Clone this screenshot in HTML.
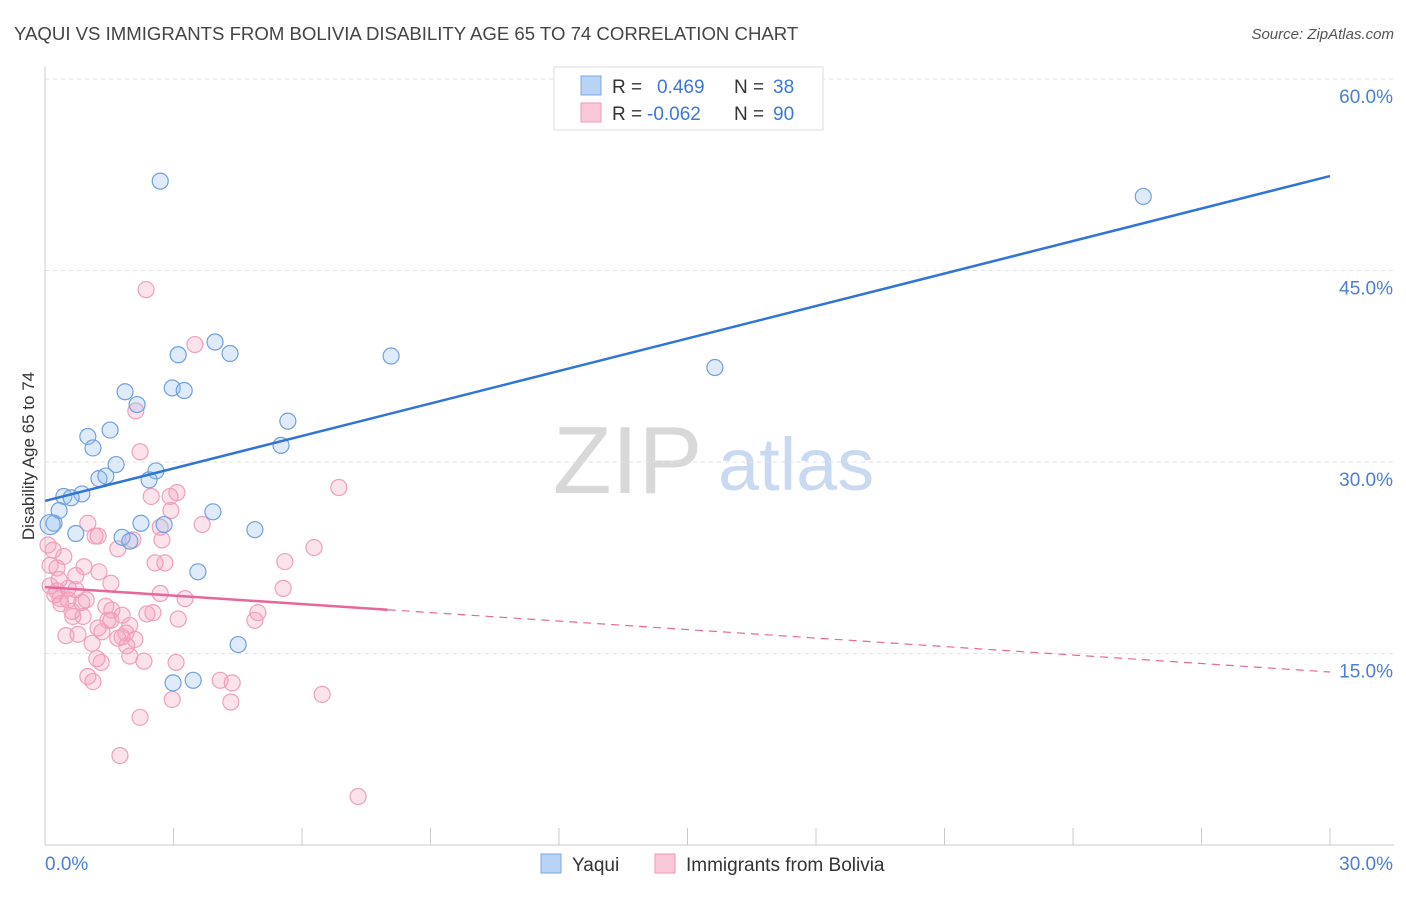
<!DOCTYPE html>
<html><head><meta charset="utf-8"><style>
body{margin:0;background:#fff;font-family:"Liberation Sans",sans-serif}
svg text{font-family:"Liberation Sans",sans-serif}
</style></head><body>
<svg id="chart" width="1406" height="892" viewBox="0 0 1406 892">
<text x="14" y="40" font-size="18.6" fill="#444">YAQUI VS IMMIGRANTS FROM BOLIVIA DISABILITY AGE 65 TO 74 CORRELATION CHART</text>
<text x="1394" y="39" font-size="15" fill="#555" font-style="italic" text-anchor="end">Source: ZipAtlas.com</text>
<g>
<text x="553" y="493" font-size="96" fill="#d8d8d8" font-family="Liberation Serif">ZIP</text>
<text x="718" y="490" font-size="74" fill="#c9daf0">atlas</text>
</g>
<g id="grid"></g>
<g id="axes"></g>
<g id="pts"></g>
<g id="trends"></g>
<text x="34" y="456" font-size="17" fill="#333" text-anchor="middle" transform="rotate(-90 34 456)">Disability Age 65 to 74</text>
<g>
<rect x="554" y="67" width="269" height="63" fill="#fff" stroke="#ddd"/>
<rect x="581" y="76" width="20" height="19" fill="#b8d3f5" stroke="#7aa8e6"/>
<rect x="581" y="103" width="20" height="19" fill="#fac8d8" stroke="#ef9ab5"/>
<text x="612" y="93" font-size="19" fill="#333">R =</text>
<text x="657" y="93" font-size="19" fill="#3a78d8">0.469</text>
<text x="734" y="93" font-size="19" fill="#333">N =</text>
<text x="773" y="93" font-size="19" fill="#3a78d8">38</text>
<text x="612" y="120" font-size="19" fill="#333">R =</text>
<text x="647" y="120" font-size="19" fill="#3a78d8">-0.062</text>
<text x="734" y="120" font-size="19" fill="#333">N =</text>
<text x="773" y="120" font-size="19" fill="#3a78d8">90</text>
</g>
<g>
<rect x="541" y="854" width="20" height="19" fill="#b8d3f5" stroke="#7aa8e6"/>
<text x="572" y="871" font-size="19" fill="#333">Yaqui</text>
<rect x="655" y="854" width="20" height="19" fill="#fac8d8" stroke="#ef9ab5"/>
<text x="686" y="871" font-size="19" fill="#333">Immigrants from Bolivia</text>
</g>
</svg>
<script>
const yaquiX=[2.69,25.64,3.97,3.11,4.32,8.08,15.64,2.97,3.25,1.87,2.15,5.67,1.52,1.00,1.12,5.51,1.66,2.59,1.26,1.42,2.43,0.86,0.44,0.61,0.33,3.92,2.24,2.78,0.21,0.72,4.90,1.80,1.98,3.57,4.51,2.99,3.46,0.12];
const yaquiY=[52.0,50.8,39.4,38.4,38.5,38.3,37.4,35.8,35.6,35.5,34.5,33.2,32.5,32.0,31.1,31.3,29.8,29.3,28.7,28.9,28.6,27.5,27.3,27.2,26.2,26.1,25.2,25.1,25.2,24.4,24.7,24.1,23.8,21.4,15.7,12.7,12.9,25.1];
const boliviaX=[2.36,3.50,2.12,2.22,6.86,3.08,2.48,2.92,2.94,1.00,3.67,2.69,1.17,1.24,2.05,2.73,6.28,1.70,0.19,0.44,5.60,2.57,2.80,0.12,0.28,0.91,1.26,0.72,0.33,1.54,0.12,5.56,0.54,0.28,0.72,2.69,3.27,0.54,0.86,0.37,1.42,1.56,0.63,2.52,4.97,2.38,1.80,0.89,0.65,1.54,3.11,4.90,1.24,1.89,1.33,0.77,0.49,1.70,2.10,1.80,1.10,1.91,1.98,1.21,1.31,2.31,3.06,1.00,1.12,4.09,4.37,6.47,2.97,4.34,2.22,1.75,7.31,0.07,0.23,0.35,1.98,1.47,0.96];
const boliviaY=[43.5,39.2,34.0,30.8,28.0,27.6,27.3,27.3,26.2,25.2,25.1,24.9,24.2,24.2,23.9,23.9,23.3,23.2,23.1,22.6,22.2,22.1,22.1,21.9,21.7,21.8,21.4,21.1,20.8,20.5,20.3,20.1,20.1,19.9,20.0,19.7,19.3,19.2,19.0,18.9,18.7,18.4,18.3,18.2,18.2,18.1,18.0,17.9,17.9,17.6,17.7,17.6,17.0,16.6,16.7,16.5,16.4,16.2,16.1,16.3,15.8,15.6,14.8,14.6,14.3,14.4,14.3,13.2,12.8,12.9,12.7,11.8,11.4,11.2,10.0,7.0,3.8,23.5,19.6,19.3,17.2,17.6,19.2];
const yTicks=[15,30,45,60];
const yTickLabels=["15.0%","30.0%","45.0%","60.0%"];
const yaquiTrend=[26.95,52.4];
const boliviaTrend=[20.2,13.55];
const boliviaSolidEnd=8.0;

const NS="http://www.w3.org/2000/svg";
const X0=45,X1=1330,Y0=845,Y60=79;
const sx=v=>X0+(v/30)*(X1-X0);
const sy=v=>Y0-(v/60)*(Y0-Y60);
function mk(tag,attrs,parent){const e=document.createElementNS(NS,tag);for(const k in attrs)e.setAttribute(k,attrs[k]);parent.appendChild(e);return e;}
const grid=document.getElementById('grid'),axes=document.getElementById('axes'),pts=document.getElementById('pts'),trends=document.getElementById('trends');
yTicks.forEach((t,i)=>{
 const l=mk('line',{x1:X0,x2:1394,y1:sy(t),y2:sy(t),stroke:'#e2e2e2','stroke-dasharray':'4,4'},grid);
 
 
 const tx=mk('text',{x:1393,y:sy(t)+24,'font-size':19,fill:'#4a7fd4','text-anchor':'end'},grid);
 tx.textContent=yTickLabels[i];
 
 
});
const ax=mk('line',{x1:X0,x2:X0,y1:67,y2:Y0,stroke:'#ccc'},axes);


const bx=mk('line',{x1:X0,x2:1394,y1:Y0,y2:Y0,stroke:'#ccc'},axes);


for(let i=0;i<=10;i++){
 const tk=mk('line',{x1:sx(i*3),x2:sx(i*3),y1:828,y2:Y0,stroke:'#ccc'},axes);
 
 
}
const xl0=mk('text',{x:45,y:870,'font-size':19,fill:'#4a7fd4'},axes);xl0.textContent='0.0%';


const xl1=mk('text',{x:1393,y:870,'font-size':19,fill:'#4a7fd4','text-anchor':'end'},axes);xl1.textContent='30.0%';


boliviaX.forEach((x,i)=>{
 const c=mk('circle',{cx:sx(x),cy:sy(boliviaY[i]),r:8,fill:'rgba(244,160,190,0.3)',stroke:'#f0a0ba','stroke-width':1.2},pts);
 
 
});
yaquiX.forEach((x,i)=>{
 const c=mk('circle',{cx:sx(x),cy:sy(yaquiY[i]),r:i===yaquiX.length-1?10:8,fill:'rgba(150,190,240,0.3)',stroke:'#6fa0e0','stroke-width':1.2},pts);
 
 
});
const bt=mk('line',{x1:sx(0),y1:sy(yaquiTrend[0]),x2:sx(30),y2:sy(yaquiTrend[1]),stroke:'#2f74d6','stroke-width':2.5},trends);


const pAt=v=>boliviaTrend[0]+(boliviaTrend[1]-boliviaTrend[0])*v/30;
const pt1=mk('line',{x1:sx(0),y1:sy(pAt(0)),x2:sx(boliviaSolidEnd),y2:sy(pAt(boliviaSolidEnd)),stroke:'#e8679a','stroke-width':2.5},trends);


const pt2=mk('line',{x1:sx(boliviaSolidEnd),y1:sy(pAt(boliviaSolidEnd)),x2:sx(30),y2:sy(pAt(30)),stroke:'#e8679a','stroke-width':1.2,'stroke-dasharray':'8,6'},trends);


</script>
</body></html>
